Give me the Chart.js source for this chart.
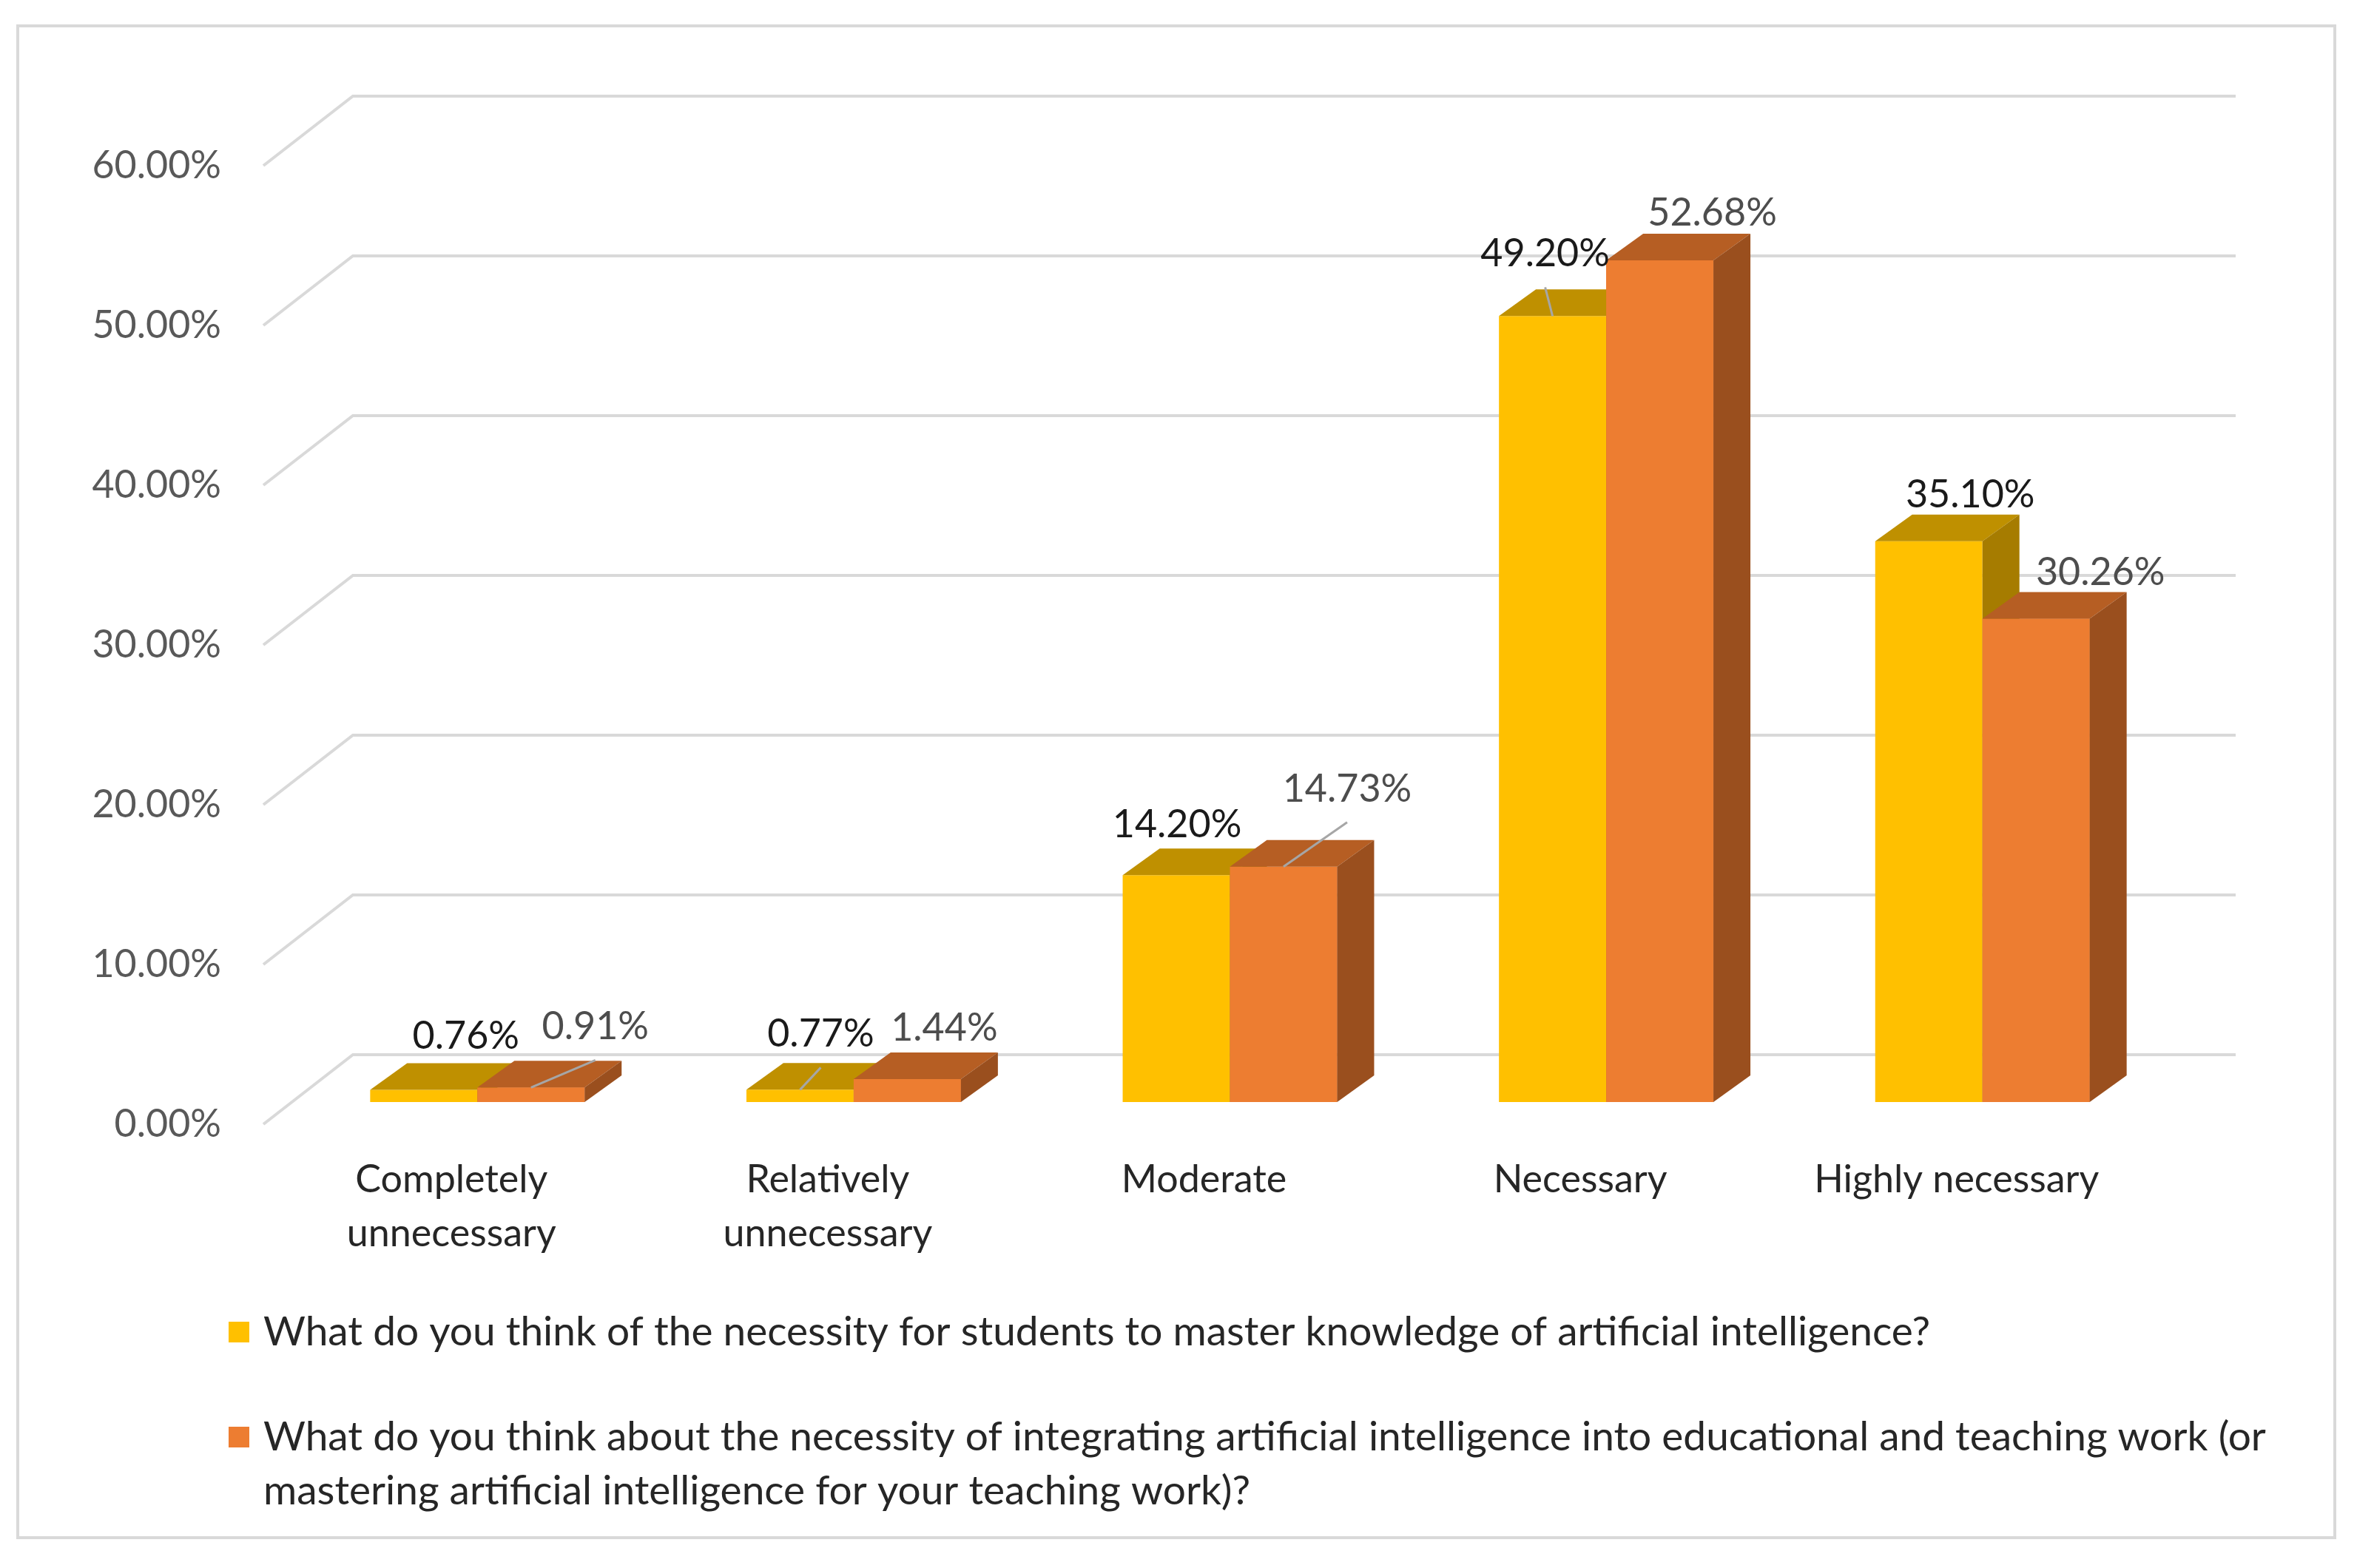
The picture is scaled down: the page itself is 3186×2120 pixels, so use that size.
<!DOCTYPE html>
<html>
<head>
<meta charset="utf-8">
<script src="https://cdn.jsdelivr.net/npm/chart.js@4.4.1/dist/chart.umd.min.js"></script>
<style>
html, body { margin: 0; padding: 0; background: #fff; }
canvas { display: block; }
</style>
</head>
<body>
<canvas id="necessity" width="3186" height="2120"></canvas>
<script>
// values
var categories = [['Completely', 'unnecessary'], ['Relatively', 'unnecessary'], 'Moderate', 'Necessary', 'Highly necessary'];
var studentValues = [0.76, 0.77, 14.20, 49.20, 35.10];
var teachingValues = [0.91, 1.44, 14.73, 52.68, 30.26];
var yTicks = [0, 10, 20, 30, 40, 50, 60];
var seriesNames = [
    'What do you think of the necessity for students to master knowledge of artificial intelligence?',
    'What do you think about the necessity of integrating artificial intelligence into educational and teaching work (or mastering artificial intelligence for your teaching work)?'
];

var FONT = 'Lato, "Open Sans", sans-serif';
var FS = 52;
var LEGEND_FS = 55;

// front / top / side colours of each series
var faces = [
    { front: '#FFC000', top: '#BF9000', side: '#A67C00', text: '#1a1a1a' },
    { front: '#ED7D31', top: '#B65E23', side: '#9A4F1E', text: '#4d4d4d' }
];

// fake 3D: offsets of bar depth, front wall plane and back wall plane
var depth = { barDx: 50, barDy: 36, frontDx: -35, frontDy: 30, backDx: 86, backDy: -64, backRight: 88 };

// data label nudges (dx, dy) from the centre of the top face, like Excel placed them
var labelNudge = [
    [[32, 36], [3, 39], [-24, 32], [-35, 48], [31, 27]],
    [[62, 46], [25, 33], [61, 69], [46, 28], [62, 26]]
];
var leaders = [[false, true, false, true, false], [true, false, true, false, false]];

function pct(v) {
    return v.toFixed(2) + '%';
}

function poly(ctx, pts, color) {
    ctx.beginPath();
    ctx.moveTo(pts[0][0], pts[0][1]);
    for (var i = 1; i < pts.length; i++) ctx.lineTo(pts[i][0], pts[i][1]);
    ctx.closePath();
    ctx.fillStyle = color;
    ctx.fill();
}

function wrap(ctx, text, maxWidth) {
    var words = text.split(' ');
    var lines = [];
    var line = '';
    words.forEach(function (w) {
        var test = line ? line + ' ' + w : w;
        if (ctx.measureText(test).width > maxWidth && line) {
            lines.push(line);
            line = w;
        } else {
            line = test;
        }
    });
    lines.push(line);
    return lines;
}

var excel3d = {
    id: 'excel3d',
    beforeDraw: function (chart) {
        var ctx = chart.ctx;
        ctx.save();
        ctx.fillStyle = '#ffffff';
        ctx.fillRect(0, 0, chart.width, chart.height);
        ctx.strokeStyle = '#d9d9d9';
        ctx.lineWidth = 4;
        ctx.strokeRect(24, 35, 3132, 2044);
        ctx.restore();
    },
    beforeDatasetsDraw: function (chart) {
        var ctx = chart.ctx;
        var area = chart.chartArea;
        var y = chart.scales.y;
        var x = chart.scales.x;
        ctx.save();
        // wall gridlines with the slanted side-wall segment
        ctx.strokeStyle = '#d9d9d9';
        ctx.lineWidth = 4;
        yTicks.forEach(function (t) {
            var py = y.getPixelForValue(t);
            ctx.beginPath();
            ctx.moveTo(area.left + depth.frontDx, py + depth.frontDy);
            ctx.lineTo(area.left + depth.backDx, py + depth.backDy);
            ctx.lineTo(area.right + depth.backRight, py + depth.backDy);
            ctx.stroke();
        });
        // value axis labels on the front plane
        ctx.font = FS + 'px ' + FONT;
        ctx.fillStyle = '#595959';
        ctx.textAlign = 'right';
        ctx.textBaseline = 'middle';
        yTicks.forEach(function (t) {
            ctx.fillText(pct(t), area.left - 92, y.getPixelForValue(t) + depth.frontDy);
        });
        // category labels
        ctx.fillStyle = '#262626';
        ctx.textAlign = 'center';
        chart.data.labels.forEach(function (lab, i) {
            var lines = Array.isArray(lab) ? lab : [lab];
            var cx = x.getPixelForValue(i) + depth.frontDx;
            lines.forEach(function (ln, j) {
                ctx.fillText(ln, cx, area.bottom + 105 + j * 73);
            });
        });
        ctx.restore();
    },
    afterDatasetsDraw: function (chart) {
        var ctx = chart.ctx;
        var metas = [chart.getDatasetMeta(0), chart.getDatasetMeta(1)];
        var dx = depth.barDx, dy = depth.barDy;
        ctx.save();
        for (var i = 0; i < categories.length; i++) {
            metas.forEach(function (meta, d) {
                var b = meta.data[i].getProps(['x', 'y', 'base', 'width'], true);
                var x0 = b.x - b.width / 2, x1 = b.x + b.width / 2;
                if (d > 0) {
                    // front face again so it hides the side of the left neighbour
                    ctx.fillStyle = faces[d].front;
                    ctx.fillRect(x0, b.y, b.width, b.base - b.y);
                }
                poly(ctx, [[x0, b.y], [x1, b.y], [x1 + dx, b.y - dy], [x0 + dx, b.y - dy]], faces[d].top);
                poly(ctx, [[x1, b.y], [x1 + dx, b.y - dy], [x1 + dx, b.base - dy], [x1, b.base]], faces[d].side);
            });
        }
        // data labels
        ctx.font = FS + 'px ' + FONT;
        ctx.textAlign = 'center';
        ctx.textBaseline = 'middle';
        metas.forEach(function (meta, d) {
            var values = chart.data.datasets[d].data;
            meta.data.forEach(function (el, i) {
                var b = el.getProps(['x', 'y'], true);
                var lx = b.x + dx / 2 + labelNudge[d][i][0];
                var ly = b.y - dy - labelNudge[d][i][1];
                if (leaders[d][i]) {
                    ctx.strokeStyle = '#a6a6a6';
                    ctx.lineWidth = 3;
                    ctx.beginPath();
                    ctx.moveTo(b.x, b.y);
                    ctx.lineTo(lx, ly + 45);
                    ctx.stroke();
                }
                ctx.fillStyle = faces[d].text;
                ctx.fillText(pct(values[i]), lx, ly);
            });
        });
        ctx.restore();
    },
    afterDraw: function (chart) {
        var ctx = chart.ctx;
        ctx.save();
        ctx.font = LEGEND_FS + 'px ' + FONT;
        ctx.textAlign = 'left';
        ctx.textBaseline = 'middle';
        var top = [1801, 1943];
        chart.data.datasets.forEach(function (ds, d) {
            ctx.fillStyle = faces[d].front;
            ctx.fillRect(309, top[d] - 14, 28, 28);
            ctx.fillStyle = '#262626';
            wrap(ctx, ds.label, 2710).forEach(function (ln, j) {
                ctx.fillText(ln, 356, top[d] + j * 73);
            });
        });
        ctx.restore();
    }
};

var ctx = document.getElementById('necessity').getContext('2d');
var necessityChart = new Chart(ctx, {
    type: 'bar',
    data: {
        labels: categories,
        datasets: [
            { label: seriesNames[0], data: studentValues, backgroundColor: faces[0].front, borderWidth: 0 },
            { label: seriesNames[1], data: teachingValues, backgroundColor: faces[1].front, borderWidth: 0 }
        ]
    },
    options: {
        responsive: false,
        animation: false,
        devicePixelRatio: 1,
        layout: { padding: { left: 391, right: 252, top: 194, bottom: 630 } },
        datasets: { bar: { categoryPercentage: 0.57, barPercentage: 1.0 } },
        scales: {
            x: { display: false },
            y: { display: false, min: 0, max: 60 }
        },
        plugins: {
            legend: { display: false },
            tooltip: { enabled: false }
        }
    },
    plugins: [excel3d]
});
</script>
</body>
</html>
